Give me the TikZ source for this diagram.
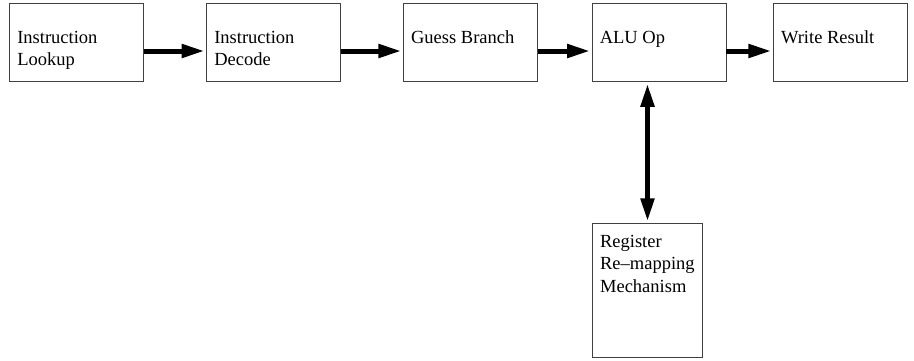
\documentclass[tikz,border=0pt]{standalone}
\usepackage{fontspec}
\setmainfont{Liberation Serif}
\usetikzlibrary{positioning,arrows.meta}

\begin{document}
\begin{tikzpicture}[x=1pt,y=1pt]
                    \tikzstyle{stage}=[draw=black!75,line width=0.8,rectangle,minimum width=134,minimum height=78.5,inner sep=0]
                    \tikzstyle{stagetext}=[anchor=north west,align=left,inner sep=0,font=\fontsize{18.5}{22.5}\selectfont]
                    \tikzstyle{flow}=[line width=5,-{Triangle[length=23,width=13]}]
                    \useasboundingbox (0,0) rectangle (914,-360);
                    {
                        \node[stage] (lookup) at (76.5,-42.6) {};
                        \node[stage] (decode) at (273.5,-42.6) {};
                        \node[stage] (guess) at (470.3,-42.6) {};
                        \node[stage] (alu) at (659,-42.6) {};
                        \node[stage] (write) at (840.3,-42.6) {};
                        \node[stage,minimum width=110.4,minimum height=134] (remap) at (647.5,-290.3) {};
                    }
                    % stage names
                    \node[stagetext] (lookuptext) at ([xshift=8,yshift=-27.6]lookup.north west) {Instruction\\Lookup};
                    \node[stagetext] (decodetext) at ([xshift=8,yshift=-27.6]decode.north west) {Instruction\\Decode};
                    \node[stagetext] (guesstext) at ([xshift=8,yshift=-27.4]guess.north west) {Guess Branch};
                    \node[stagetext] (alutext) at ([xshift=8,yshift=-27.6]alu.north west) {ALU Op};
                    \node[stagetext] (writetext) at ([xshift=8,yshift=-27.4]write.north west) {Write Result};
                    \node[stagetext] (remaptext) at ([xshift=8,yshift=-11.7]remap.north west) {Register\\Re\textendash mapping\\Mechanism};
                    % pipeline
                    \draw[flow] ([yshift=-8.4]lookup.east) -- ([xshift=-1.5,yshift=-8.4]decode.west);
                    \draw[flow] ([yshift=-8.4]decode.east) -- ([xshift=-1.5,yshift=-8.4]guess.west);
                    \draw[flow] ([yshift=-8.4]guess.east) -- ([xshift=-1.5,yshift=-8.4]alu.west);
                    \draw[flow] ([yshift=-8.4]alu.east) -- ([xshift=-1.5,yshift=-8.4]write.west);
                    \draw[flow,{Triangle[length=23,width=13]}-{Triangle[length=23,width=13]}] ([yshift=-1.5]remap.north |- alu.south) -- ([yshift=1.5]remap.north);
\end{tikzpicture}
\end{document}
